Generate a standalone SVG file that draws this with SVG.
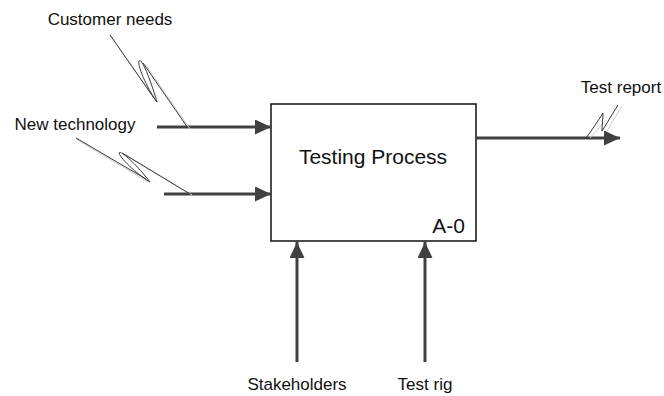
<svg xmlns="http://www.w3.org/2000/svg" width="664" height="396" viewBox="0 0 664 396">
  <style>
    .lbl { font-family: "Liberation Sans", Arial, sans-serif; font-size: 17px; fill: #111; }
    .big { font-family: "Liberation Sans", Arial, sans-serif; font-size: 21px; fill: #111; }
    .flow { stroke: #404040; stroke-width: 3; fill: none; }
    .squig { stroke: #3a3a3a; stroke-width: 1; fill: none; stroke-linejoin: round; }
    .halo { stroke: #cccccc; stroke-width: 1; fill: none; }
  </style>
  <defs>
    <marker id="head" viewBox="0 0 16 15" refX="16" refY="7.5" markerWidth="16" markerHeight="15" markerUnits="userSpaceOnUse" orient="auto">
      <path d="M0,0 L16,7.5 L0,15 Z" fill="#404040"/>
    </marker>
  </defs>
  <rect width="664" height="396" fill="#ffffff"/>

  <!-- Activity box -->
  <g id="testing-process">
    <rect x="271" y="104" width="205" height="137" fill="#ffffff" stroke="#111" stroke-width="1.5"/>
    <text class="big" x="373" y="164" text-anchor="middle">Testing Process</text>
    <text class="big" x="465" y="233" text-anchor="end">A-0</text>
  </g>

  <!-- Arrow labels -->
  <g id="customer-needs"><text class="lbl" x="110" y="25" text-anchor="middle">Customer needs</text></g>
  <g id="new-technology"><text class="lbl" x="75" y="130" text-anchor="middle">New technology</text></g>
  <g id="test-report"><text class="lbl" x="621" y="93" text-anchor="middle">Test report</text></g>
  <g id="stakeholders"><text class="lbl" x="297" y="390" text-anchor="middle">Stakeholders</text></g>
  <g id="test-rig"><text class="lbl" x="425" y="390" text-anchor="middle">Test rig</text></g>

  <!-- Connectors -->
  <g id="connectors">
    <!-- inputs -->
    <line class="flow" x1="157" y1="127" x2="271" y2="127" marker-end="url(#head)"/>
    <line class="flow" x1="164" y1="194" x2="271" y2="194" marker-end="url(#head)"/>
    <!-- output -->
    <line class="flow" x1="476" y1="138" x2="620" y2="138" marker-end="url(#head)"/>
    <!-- mechanisms -->
    <line class="flow" x1="297" y1="362" x2="297" y2="242" marker-end="url(#head)"/>
    <line class="flow" x1="425" y1="362" x2="425" y2="242" marker-end="url(#head)"/>

    <!-- squiggles tying labels to arrows -->
    <path class="halo" d="M111,36 L156,101 M145,64 L190,129"/>
    <path class="squig" d="M110,35 L154,98"/>
    <path class="squig" d="M157,102 C150,93 137,67 139,61 C141,57 149,75 157,102 Z"/>
    <path class="squig" d="M143,63 L188,128"/>

    <path class="halo" d="M76,139 L148,182 M125,154 L192,195"/>
    <path class="squig" d="M76,138 L146,179"/>
    <path class="squig" d="M150,182 C141,177 121,160 119,153 C120,149 138,166 150,182 Z"/>
    <path class="squig" d="M122,153 L190,194"/>

    <path class="halo" d="M590,138 L606,120 M607,131 L622,106"/>
    <path class="squig" d="M586,138 C592,130 598,121 603,113 C603,118 602,125 602,131 C607,123 613,113 618,105"/>
  </g>
</svg>
